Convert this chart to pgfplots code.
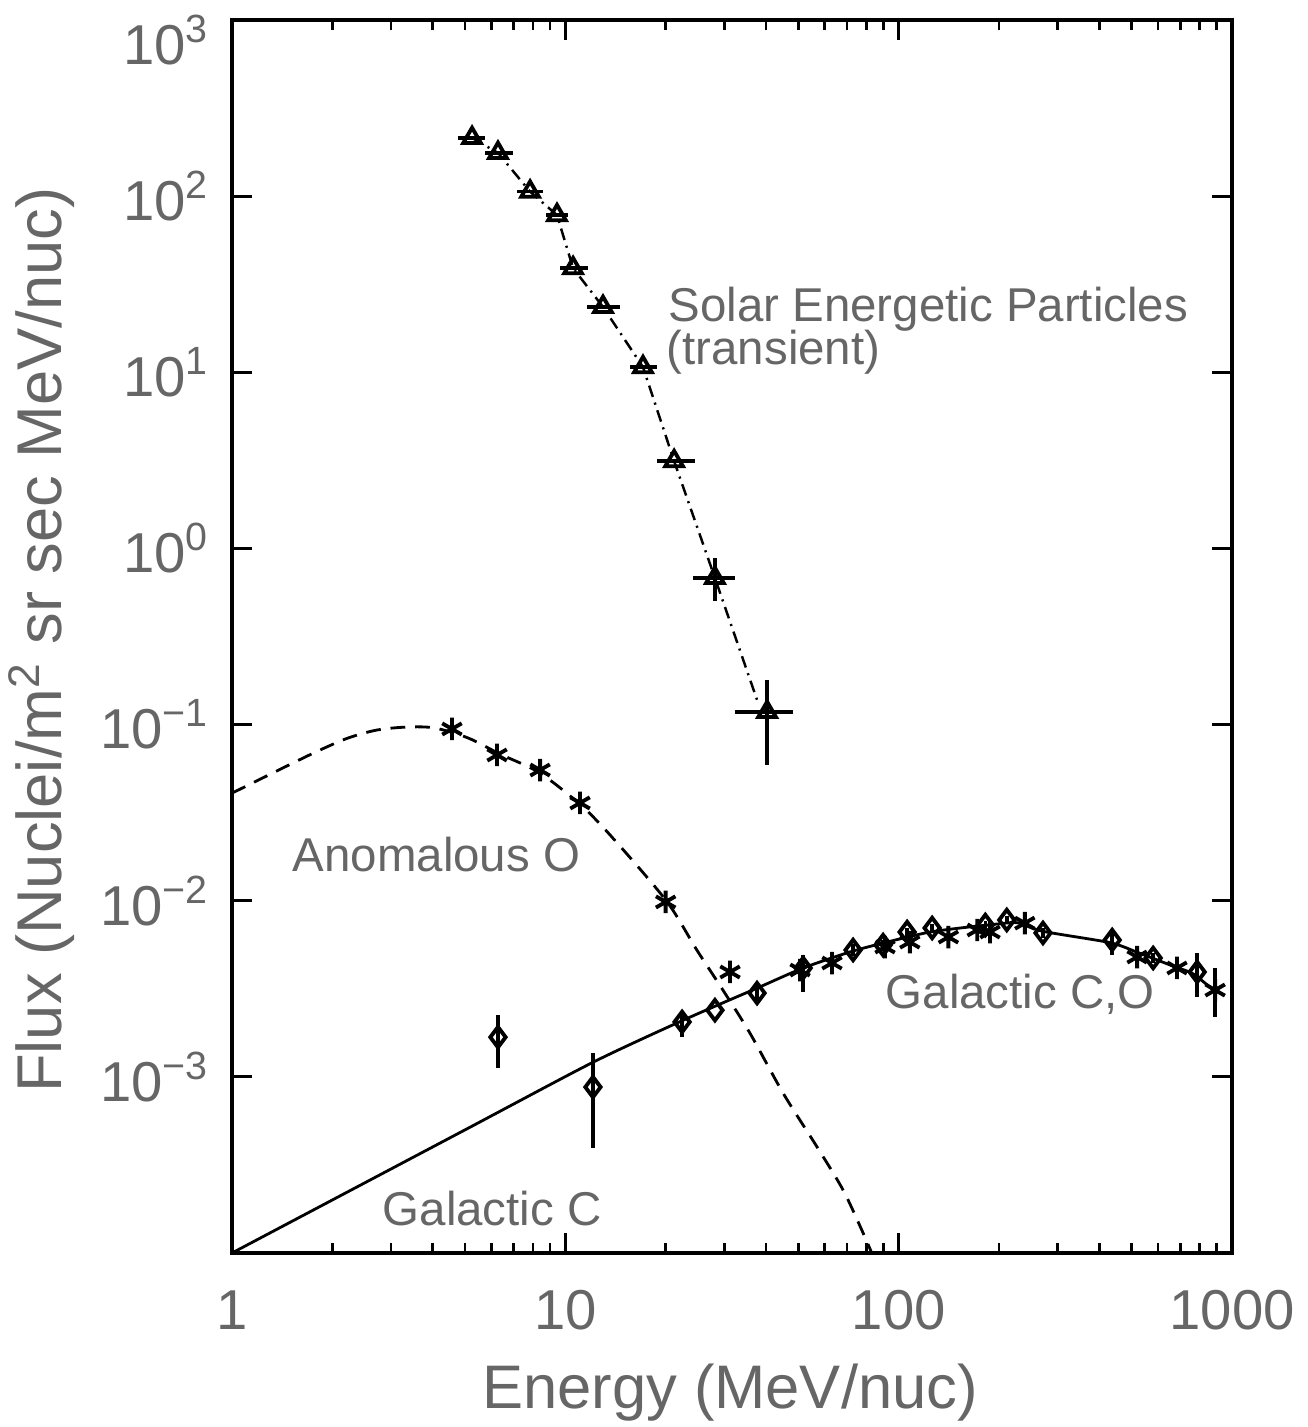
\documentclass[border=0pt]{standalone}
\usepackage{fontspec}
\setmainfont{Liberation Sans}
\usepackage{pgfplots}
\pgfplotsset{compat=1.18}
\definecolor{lbl}{gray}{0.4}

\begin{document}
\begin{tikzpicture}
\begin{axis}[
  scale only axis, width=10cm, height=12.33cm,
  xmode=log, ymode=log,
  xmin=1, xmax=1000, ymin=1e-4, ymax=1e3,
  xtick={1,10,100,1000}, xticklabels={1,10,100,1000},
  ytick={1e-4,1e-3,1e-2,1e-1,1,10,100},
  yticklabels={,10\textsuperscript{−3},10\textsuperscript{−2},10\textsuperscript{−1},10\textsuperscript{0},10\textsuperscript{1},10\textsuperscript{2}},
  extra y ticks={1000}, extra y tick labels={10\textsuperscript{3}},
  extra y tick style={yticklabel style={yshift=-0.2cm}},
  yminorticks=false,
  major tick length=0.2cm, minor tick length=0.1cm,
  every tick/.style={black, line width=0.8pt},
  axis line style={line width=0.9pt},
  tick label style={font=\fontsize{16}{16}\selectfont, text=lbl},
  xticklabel style={yshift=-0.25cm},
  yticklabel style={xshift=-0.1cm},
  xlabel={Energy (MeV/nuc)},
  ylabel={Flux (Nuclei/m\textsuperscript{2} sr sec MeV/nuc)},
  xlabel style={font=\fontsize{17.5}{17.5}\selectfont, text=lbl,
    at={(axis description cs:0.498,-0.1257)}, anchor=base},
  ylabel style={font=\fontsize{18}{18}\selectfont, text=lbl,
    at={(axis description cs:-0.170,0.497)}, anchor=base},
]
\coordinate (SW) at (rel axis cs:0,0);
\coordinate (NE) at (rel axis cs:1,1);

% solar energetic particles
\addplot[line width=0.7pt, dash pattern=on 3.4pt off 1.7pt on 0.6pt off 1.7pt]
  coordinates {(5.25,214)(6.28,176)(7.84,106)(9.44,78)(10.55,39)(12.97,23.5)(17.1,10.7)(21.2,3.13)(28.1,0.68)(37.6,0.138)};
\addplot[only marks, mark=triangle, mark size=2.9pt, line width=1.1pt,
  error bars/.cd, x dir=both, x explicit, y dir=both, y explicit, error mark=none,
  error bar style={line width=1pt}]
coordinates {
(5.25,214) += (0.49,0) -= (0.48,0)
(6.28,176) += (0.69,0) -= (0.54,0)
(7.84,106) += (0.73,0) -= (0.68,0)
(9.44,78) += (0.75,0) -= (0.69,0)
(10.55,39) += (1.15,0) -= (0.91,0)
(12.97,23.5) += (1.63,0) -= (1.37,0)
(17.1,10.7) += (1.7,0) -= (1.5,0)
(21.2,3.13) += (3.3,0) -= (2.4,0)
(28.1,0.68) += (4.2,0.20) -= (3.9,0.18)
(40.3,0.118) += (7.9,0.061) -= (8.0,0.059)
};

% anomalous O
\addplot[line width=0.8pt, dash pattern=on 4.2pt off 2.8pt, smooth]
  coordinates {(1.0,0.0408)(1.51,0.0600)(1.84,0.0718)(2.23,0.0839)(2.72,0.0931)(3.35,0.0968)(4.06,0.0956)(5.11,0.0839)(6.37,0.0680)(8.40,0.0530)(11.3,0.0340)(14.3,0.0213)(20.2,0.00984)(24.8,0.00525)(29.7,0.00311)(35.8,0.00177)(45.0,0.000809)(56.9,0.000400)(68.1,0.000228)(78.2,0.000130)(85,0.00009)};
\addplot[only marks, mark=asterisk, mark size=3.2pt, line width=1.1pt]
  coordinates {(4.57,0.0944)(6.24,0.0672)(8.40,0.0552)(11.07,0.0359)(20.0,0.00984)(31.2,0.00394)};

% galactic C, O
\addplot[line width=0.8pt, smooth, tension=0.4]
  coordinates {(1,1e-4)(5,0.0005)(12.1,0.00121)(22.6,0.0021)(37.6,0.00319)(51.7,0.00415)(71.5,0.00512)(89.8,0.00575)(122,0.00660)(153,0.0070)(201,0.00740)(227,0.00750)(271,0.00670)(431,0.00578)(519,0.00510)(666,0.00425)(764,0.00385)(878,0.00311)};
\addplot[only marks, mark=diamond, mark size=2.9pt, line width=1.1pt,
  error bars/.cd, y dir=both, y explicit, error mark=none,
  error bar style={line width=1pt}]
coordinates {
(6.28,0.00168) += (0,0.00057) -= (0,0.00056)
(12.1,0.000875) += (0,0.000495) -= (0,0.00048)
(22.4,0.00205) += (0,0.00028) -= (0,0.00037)
(28.1,0.00239) += (0,0) -= (0,0)
(37.6,0.00299) += (0,0.0003) -= (0,0.0003)
(51.7,0.00415) += (0,0.00077) -= (0,0.00112)
(73.0,0.00525) += (0,0.0004) -= (0,0.0004)
(89.8,0.00560) += (0,0.0004) -= (0,0.0004)
(106,0.00664) += (0,0.0004) -= (0,0.0004)
(126,0.00700) += (0,0.0004) -= (0,0.0004)
(182,0.00728) += (0,0.0004) -= (0,0.0004)
(211,0.00777) += (0,0.0004) -= (0,0.0004)
(271,0.00656) += (0,0.0004) -= (0,0.0004)
(437,0.00598) += (0,0.00084) -= (0,0.00106)
(580,0.00473) += (0,0.0003) -= (0,0.0003)
(786,0.00394) += (0,0.00111) -= (0,0.00110)
};
\addplot[only marks, mark=asterisk, mark size=3.2pt, line width=1.1pt,
  error bars/.cd, y dir=both, y explicit, error mark=none,
  error bar style={line width=1pt}]
coordinates {
(50.6,0.00404) += (0,0) -= (0,0)
(63.1,0.00443) += (0,0) -= (0,0)
(91.0,0.00546) += (0,0) -= (0,0)
(108,0.00582) += (0,0) -= (0,0)
(141,0.00622) += (0,0) -= (0,0)
(172,0.00682) += (0,0) -= (0,0)
(188,0.00664) += (0,0) -= (0,0)
(239,0.00746) += (0,0) -= (0,0)
(519,0.00479) += (0,0) -= (0,0)
(684,0.00415) += (0,0) -= (0,0)
(890,0.00311) += (0,0.00104) -= (0,0.00092)
};

\begin{scope}[every node/.style={anchor=base west, inner sep=0pt, text=lbl, font=\fontsize{13.5}{13.5}\selectfont}]
\node at (axis cs:20.3,19.5) {Solar Energetic Particles};
\node at (axis cs:20.05,11.0) {(transient)};
\node at (axis cs:1.514,0.01456) {Anomalous O};
\node at (axis cs:91.0,0.00246) {Galactic C,O};
\node at (axis cs:2.82,0.000144) {Galactic C};
\end{scope}
\end{axis}
\pgfresetboundingbox
\path ([shift={(-2.32cm,-1.74cm)}]SW) rectangle ([shift={(0.75cm,0.20cm)}]NE);
\end{tikzpicture}
\end{document}
